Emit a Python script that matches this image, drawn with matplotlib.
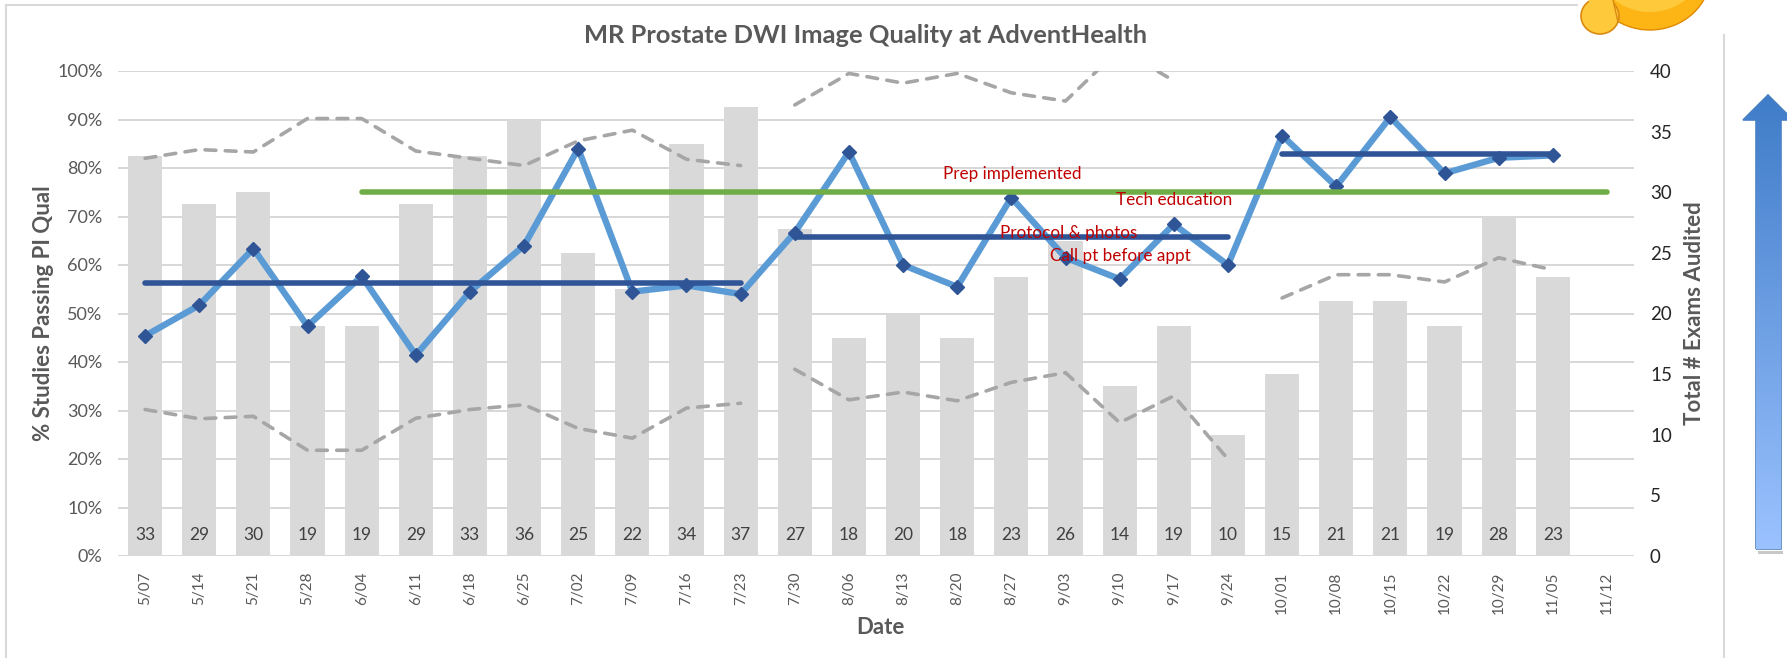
import numpy as np
import matplotlib
matplotlib.use("Agg")
import matplotlib.pyplot as plt
from matplotlib.patches import Ellipse, Polygon, Rectangle
from matplotlib.lines import Line2D

plt.rcParams['font.family'] = ['Lato', 'DejaVu Sans']

dates = ['5/07','5/14','5/21','5/28','6/04','6/11','6/18','6/25','7/02','7/09','7/16','7/23','7/30','8/06',
         '8/13','8/20','8/27','9/03','9/10','9/17','9/24','10/01','10/08','10/15','10/22','10/29','11/05','11/12']
exams = [33,29,30,19,19,29,33,36,25,22,34,37,27,18,20,18,23,26,14,19,10,15,21,21,19,28,23,np.nan]
passing = [45.4,51.7,63.4,47.4,57.7,41.4,54.5,64.0,84.0,54.5,55.8,54.0,66.7,83.3,60.0,55.5,73.9,61.5,57.1,68.4,60.0,
           86.7,76.2,90.5,78.9,82.1,82.6,np.nan]
upper1 = [82.0,83.8,83.3,90.2,90.2,83.5,82.0,80.5,85.6,87.8,81.8,80.5] + [np.nan]*16
upper2 = [np.nan]*12 + [93.0,99.5,97.5,99.5,95.5,93.8,104.5,98.0] + [np.nan]*8
lower1 = [30.2,28.3,28.8,21.8,21.8,28.4,30.2,31.2,26.3,24.3,30.5,31.5] + [np.nan]*16
lower2 = [np.nan]*12 + [38.5,32.2,33.8,32.0,35.8,37.8,27.5,33.0,20.0] + [np.nan]*7
lower3 = [np.nan]*21 + [53.2,58.0,58.0,56.5,61.5,59.0,np.nan]
mean1 = [56.2]*12 + [np.nan]*16
mean2 = [np.nan]*12 + [65.8]*9 + [np.nan]*7
mean3 = [np.nan]*21 + [82.8]*6 + [np.nan]
goal = [np.nan]*4 + [75.0]*24
notes = ['Prep implemented','Tech education','Protocol & photos','Call pt before appt']
note_x = [16.02,19.0,17.06,18.02]
note_y = [78.7,73.3,66.5,61.9]

W, H = 1787, 658
fig = plt.figure(figsize=(W/100, H/100), dpi=100, facecolor='white')
def axpx(l, t, r, b):
    return [l/W, 1-b/H, (r-l)/W, (b-t)/H]

# page furniture
bg = fig.add_axes([0,0,1,1]); bg.set_xlim(0,W); bg.set_ylim(H,0); bg.axis('off')
bg.add_line(Line2D([6,6],[5,H],color='#D9D9D9',lw=1.5))
bg.add_line(Line2D([6,1577],[5,5],color='#D9D9D9',lw=1.5))
bg.add_line(Line2D([1724,1724],[35,H],color='#D9D9D9',lw=1.5))
# emoji
bg.add_patch(Ellipse((1650,-27),122,114,fc='#FDB515',ec='#E08A00',lw=1))
bg.add_patch(Ellipse((1650,-33),104,90,fc='#FFC93C',ec='none'))
bg.add_patch(Ellipse((1600,16),38,36,fc='#FFC93C',ec='#D98A10',lw=1.2))
bg.add_patch(Rectangle((1589,0),24,14,fc='#FFC93C',ec='none'))
bg.add_line(Line2D([1613,1618],[0,22],color='#D98A10',lw=1))
# arrow with gradient
arrow = Polygon([(1756,549),(1756,120),(1743,120),(1768,95),(1793,120),(1781,120),(1781,549)],
                closed=True, fc='none', ec='#4F81BD', lw=1.2)
bg.add_patch(Rectangle((1758,551),25,3,fc='#C8C8C8',ec='none'))
bg.add_patch(arrow)
grad = np.linspace(0,1,200)[:,None]
c0, c1 = np.array([0x3F,0x7C,0xC8])/255, np.array([0x9B,0xC2,0xFF])/255
img = (c0[None,None,:]*(1-grad[...,None]) + c1[None,None,:]*grad[...,None])
im = bg.imshow(img, extent=[1743,1793,549,95], aspect='auto', zorder=1)
im.set_clip_path(arrow)
bg.set_xlim(0,W); bg.set_ylim(H,0)

x = np.arange(len(dates))
# bars on the right-hand axis, drawn beneath the lines
ax2 = fig.add_axes(axpx(118,71,1634,556))
ax = fig.add_axes(axpx(118,71,1634,556), sharex=ax2)
ax.patch.set_visible(False)
ax2.patch.set_alpha(0)
ax2.bar(x, exams, width=0.63, color='#D9D9D9', zorder=2)
for xi, v in zip(x, exams):
    if not np.isnan(v):
        ax2.text(xi, 1.75, f'{int(v)}', ha='center', va='center', fontsize=12.5, color='#404040', zorder=3)
ax2.set_ylim(0,40)
ax2.set_yticks(range(0,41,5))
ax2.yaxis.tick_right()
ax2.yaxis.set_label_position('right')
ax2.tick_params(axis='y', length=0, labelsize=13.5, labelcolor='#262626', pad=11.5)
ax2.set_ylabel('Total # Exams Audited', fontsize=16, fontweight='bold', color='#595959', labelpad=8.5)
ax2.set_xlim(-0.5, len(dates)-0.5)

ax.set_ylim(0,100)
ax.set_yticks(np.arange(0,101,10))
ax.set_yticklabels([f'{v}%' for v in range(0,101,10)])
ax.tick_params(axis='y', length=0, labelsize=13, labelcolor='#595959', pad=11)
ax2.set_axisbelow(True)
for v in np.arange(0,101,10):
    ax2.axhline(v*0.4, color='#D4D4D4', lw=1.3, zorder=1)
ax2.grid(False)
ax.set_xticks(x)
ax2.set_xticks(x)
ax2.set_xticklabels(dates)
ax2.tick_params(axis='x', length=0, labelrotation=90, labelsize=11, labelcolor='#595959', pad=11)
ax.tick_params(axis='x', length=0, labelbottom=False)
ax.set_xlabel('')
ax2.set_xlabel('Date', fontsize=16, fontweight='bold', color='#595959', labelpad=2.5)
ax2.xaxis.label.set_x(0.503)
ax.set_ylabel('% Studies Passing PI Qual', fontsize=16, fontweight='bold', color='#595959', labelpad=2)
for a in (ax, ax2):
    for s in a.spines.values():
        s.set_visible(False)

dash = dict(color='#A6A6A6', lw=2.6, ls=(0,(3,2.6)), dash_capstyle='round', dash_joinstyle='round')
for band in (upper1, upper2, lower1, lower2, lower3):
    ax.plot(x, band, **dash)
ax.plot(x, passing, color='#5B9BD5', lw=4.6, solid_joinstyle='miter', marker='D', ms=7.5,
        mfc='#2F5597', mec='#2F5597', zorder=4)
for m in (mean1, mean2, mean3):
    ax.plot(x, m, color='#2F5597', lw=4, solid_capstyle='round', zorder=5)
ax.plot(x, goal, color='#70AD47', lw=4, solid_capstyle='round', zorder=5)
for t, nx, ny in zip(notes, note_x, note_y):
    ax.text(nx, ny, t, color='#C00000', fontsize=12.3, ha='center', va='center', zorder=6)

fig.text(866/W, 1-35.5/H, 'MR Prostate DWI Image Quality at AdventHealth', ha='center', va='center',
         fontsize=18.35, fontweight='bold', color='#595959')
fig.savefig('out.png', dpi=100)
